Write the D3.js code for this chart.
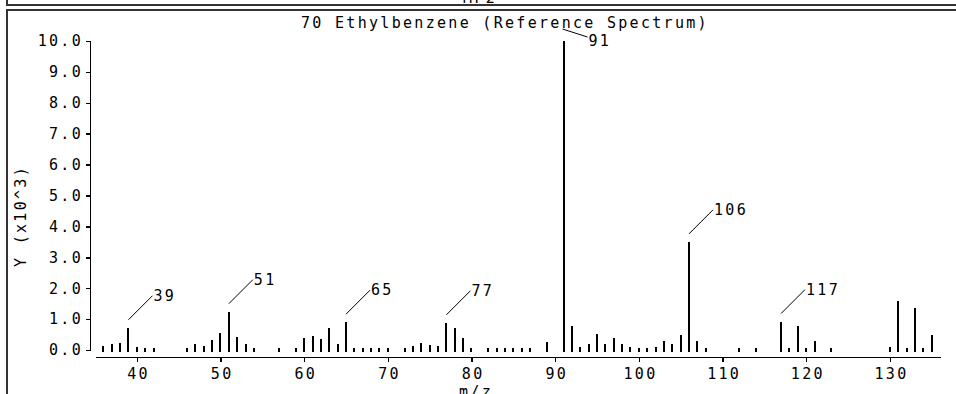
<!DOCTYPE html>
<html>
<head>
<meta charset="UTF-8">
<script src="https://cdn.jsdelivr.net/npm/d3@7"></script>
<style>
  body { margin: 0; background: #fff; overflow: hidden; }
  svg { display: block; }
  text { font-family: "DejaVu Sans Mono", monospace; font-size: 15px; letter-spacing: 2.3px; fill: #000; }
  .peak { stroke: #000; stroke-width: 2; shape-rendering: crispEdges; }
  .lead { stroke: #000; stroke-width: 1; }
  .frame { stroke: #333; stroke-width: 2; fill: none; shape-rendering: crispEdges; }
  .axis path, .axis line { stroke: #000; stroke-width: 1.5; shape-rendering: crispEdges; }
</style>
</head>
<body>
<script>
// m/z and abundance (x10^3)
var mz = [36, 37, 38, 39, 40, 41, 42, 46, 47, 48, 49, 50, 51, 52, 53, 54, 57, 59,
          60, 61, 62, 63, 64, 65, 66, 67, 68, 69, 70, 72, 73, 74, 75, 76, 77, 78, 79, 80,
          82, 83, 84, 85, 86, 87, 89, 91, 92, 93, 94, 95, 96, 97, 98, 99, 100, 101, 102,
          103, 104, 105, 106, 107, 108, 112, 114, 117, 118, 119, 120, 121, 123,
          130, 131, 132, 133, 134, 135];
var abundance = [0.12, 0.18, 0.22, 0.72, 0.1, 0.08, 0.05, 0.05, 0.2, 0.12, 0.33, 0.56, 1.24, 0.43, 0.2, 0.05, 0.05, 0.05,
          0.4, 0.45, 0.35, 0.7, 0.2, 0.9, 0.05, 0.05, 0.05, 0.05, 0.05, 0.05, 0.12, 0.22, 0.15, 0.12, 0.88, 0.7, 0.4, 0.05,
          0.05, 0.05, 0.05, 0.05, 0.05, 0.05, 0.25, 10.0, 0.78, 0.1, 0.2, 0.52, 0.2, 0.38, 0.18, 0.1, 0.05, 0.05, 0.1,
          0.28, 0.2, 0.5, 3.5, 0.3, 0.05, 0.05, 0.05, 0.92, 0.05, 0.79, 0.05, 0.3, 0.05,
          0.1, 1.6, 0.08, 1.35, 0.05, 0.5];
var labeled = [39, 51, 65, 77, 91, 106, 117];
var xTicks = [40, 50, 60, 70, 80, 90, 100, 110, 120, 130];
var yTicks = [0, 1, 2, 3, 4, 5, 6, 7, 8, 9, 10];
var title = "70 Ethylbenzene (Reference Spectrum)";

var W = 956, H = 394;
var svg = d3.select("body").append("svg").attr("width", W).attr("height", H);

// frames
svg.append("path").attr("class", "frame").attr("d", "M7,0V5H960");
svg.append("path").attr("class", "frame").attr("d", "M960,10H7V394");
svg.append("text").attr("x", 480).attr("y", 3).attr("text-anchor", "middle").text("MF2");

var x = d3.scaleLinear().domain([35, 136]).range([95, 940]);
var y = d3.scaleLinear().domain([0, 10]).range([350, 41]);

var yAxis = svg.append("g").attr("class", "axis").attr("transform", "translate(90,0)")
  .call(d3.axisLeft(y).tickValues(yTicks).tickSize(4).tickPadding(3).tickFormat(d3.format(".1f")));
var xAxis = svg.append("g").attr("class", "axis").attr("transform", "translate(0,357)")
  .call(d3.axisBottom(x).tickValues(xTicks).tickSize(5).tickSizeOuter(0).tickPadding(6));
svg.selectAll(".axis text").attr("font-family", null).attr("font-size", null);
xAxis.selectAll("text").attr("dx", 1.2);

var peaks = mz.map(function(m, i) { return {mz: m, v: abundance[i]}; });

svg.append("g").selectAll("line").data(peaks).enter().append("line")
  .attr("class", "peak")
  .attr("x1", function(d) { return Math.round(x(d.mz)); })
  .attr("x2", function(d) { return Math.round(x(d.mz)); })
  .attr("y1", y(0) + 2)
  .attr("y2", function(d) { return Math.round(y(d.v)); });

// peak labels with leader lines
var lab = peaks.filter(function(d) { return labeled.indexOf(d.mz) >= 0; });
lab.forEach(function(d) {
  var px = x(d.mz), top = y(d.v);
  var g = svg.append("g");
  if (top - 34 < 41) {
    g.append("line").attr("class", "lead")
      .attr("x1", px - 1).attr("y1", top - 12).attr("x2", px + 24).attr("y2", top - 4);
    g.append("text").attr("x", px + 25).attr("y", top + 5).text(d.mz);
  } else {
    g.append("line").attr("class", "lead")
      .attr("x1", px).attr("y1", top - 8).attr("x2", px + 24).attr("y2", top - 32);
    g.append("text").attr("x", px + 25).attr("y", top - 27).text(d.mz);
  }
});

svg.append("text").attr("x", 505).attr("y", 28).attr("text-anchor", "middle").text(title);
svg.append("text").attr("x", 476).attr("y", 397).attr("text-anchor", "middle").text("m/z");
svg.append("text").attr("transform", "translate(26,216) rotate(-90)")
  .attr("text-anchor", "middle").text("Y (x10^3)");
</script>
</body>
</html>
